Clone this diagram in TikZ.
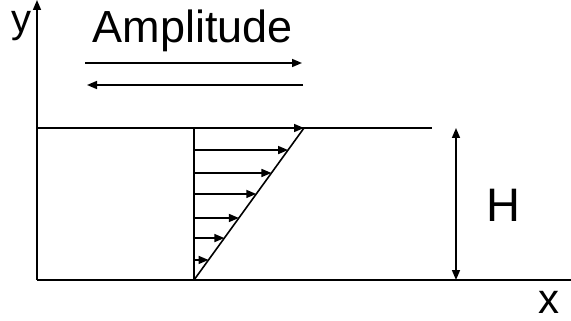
\documentclass[tikz,border=0pt]{standalone}
\usepackage{fontspec}
\setmainfont{Liberation Sans}
\usetikzlibrary{arrows.meta,calc}
\begin{document}
\begin{tikzpicture}[
    x=1pt, y=-1pt,
    line width=1.6pt,
    lbl/.style={font=\fontsize{45}{45}\selectfont, inner sep=0pt},
    axis/.style={-{Triangle[length=10pt,width=8pt]}},
    vel/.style={-{Triangle[length=10pt,width=8pt]}},
    dim/.style={{Triangle[length=10pt,width=8pt]}-{Triangle[length=10pt,width=8pt]}}
]
\useasboundingbox (0,0) rectangle (571,321);

% Axes
\coordinate (o) at (37,280);
\coordinate (ytop) at (37,0);
\coordinate (xend) at (571,280);
\draw[axis] (o) -- (ytop);
\draw (o) -- (xend);
\node[lbl, font=\fontsize{40}{40}\selectfont, anchor=base] (ylab) at (22,33) {y};
\node[lbl, font=\fontsize{42}{42}\selectfont, anchor=base] (xlab) at (549,313) {x};

% Plates
\coordinate (tl) at (37,128);
\coordinate (tr) at (432,128);
\draw (tl) -- (tr);

% Velocity profile
\coordinate (wb) at (194,280);
\coordinate (wt) at (194,128);
\coordinate (tip) at (304,128);
\draw (wb) -- (wt);
\draw (wb) -- (tip);
\draw[vel] ($(wb)!0.132!(wt)$) -- ($(wb)!0.132!(tip)$);
\draw[vel] ($(wb)!0.276!(wt)$) -- ($(wb)!0.276!(tip)$);
\draw[vel] ($(wb)!0.408!(wt)$) -- ($(wb)!0.408!(tip)$);
\draw[vel] ($(wb)!0.566!(wt)$) -- ($(wb)!0.566!(tip)$);
\draw[vel] ($(wb)!0.704!(wt)$) -- ($(wb)!0.704!(tip)$);
\draw[vel] ($(wb)!0.855!(wt)$) -- ($(wb)!0.855!(tip)$);
\draw[vel] (wt) -- (tip);

% Gap height
\coordinate (hb) at (456,280);
\coordinate (ht) at (456,128);
\draw[dim] (hb) -- (ht);
\node[lbl, font=\fontsize{47}{47}\selectfont] (hlab) at (503,205) {H};

% Amplitude
\node[lbl, anchor=base] (amp) at (193,43) {Amplitude};
\coordinate (a1) at (85,63);
\coordinate (a2) at (302,63);
\coordinate (b1) at (87,85);
\coordinate (b2) at (303,85);
\draw[vel] (a1) -- (a2);
\draw[vel] (b2) -- (b1);

\end{tikzpicture}
\end{document}
